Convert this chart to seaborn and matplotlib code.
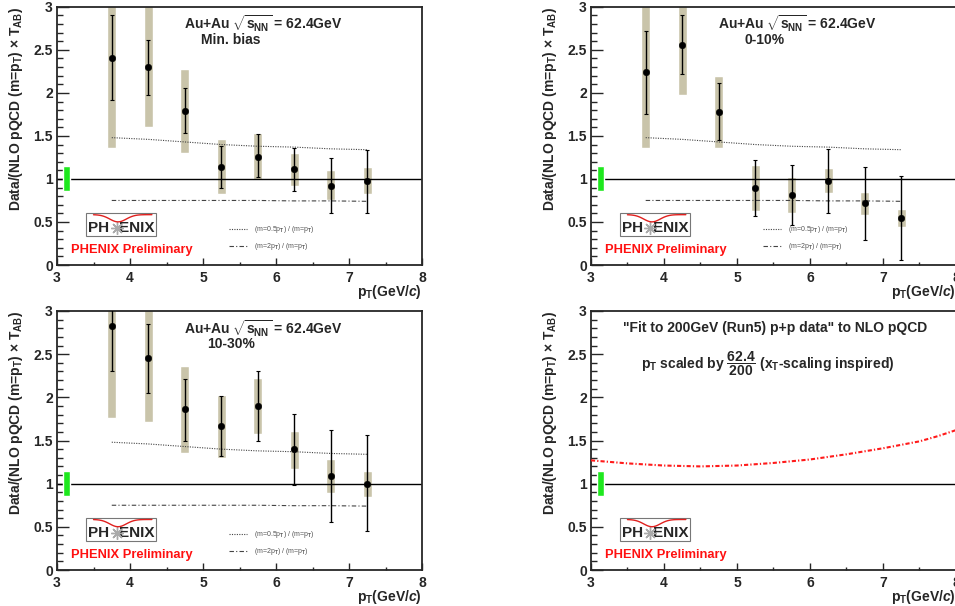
import numpy as np
import matplotlib
matplotlib.use('Agg')
import matplotlib.pyplot as plt
import seaborn as sns
from matplotlib.lines import Line2D
from matplotlib.patches import Rectangle

# pT bin centres (GeV/c)
pt = [3.75, 4.25, 4.75, 5.25, 5.75, 6.25, 6.75, 7.25]

# Min. bias
mb_val = [2.41, 2.30, 1.79, 1.14, 1.26, 1.11, 0.92, 0.98]
mb_stat_hi = [2.90, 2.62, 2.06, 1.38, 1.52, 1.36, 1.24, 1.34]
mb_stat_lo = [1.92, 1.98, 1.53, 0.90, 1.02, 0.86, 0.61, 0.61]
mb_sys_hi = [3.40, 3.40, 2.28, 1.47, 1.53, 1.30, 1.10, 1.14]
mb_sys_lo = [1.36, 1.60, 1.30, 0.82, 0.99, 0.92, 0.75, 0.83]

# 0-10%
c0_val = [2.24, 2.56, 1.78, 0.90, 0.81, 0.98, 0.715, 0.55]
c0_stat_hi = [2.72, 2.90, 2.11, 1.22, 1.16, 1.35, 1.14, 1.04]
c0_stat_lo = [1.76, 2.22, 1.45, 0.57, 0.47, 0.61, 0.29, 0.06]
c0_sys_hi = [3.40, 3.40, 2.20, 1.16, 1.02, 1.125, 0.85, 0.65]
c0_sys_lo = [1.36, 1.97, 1.36, 0.63, 0.61, 0.835, 0.58, 0.44]

# 10-30%
c1_val = [2.83, 2.45, 1.86, 1.67, 1.90, 1.40, 1.09, 1.00]
c1_stat_hi = [3.35, 2.85, 2.21, 2.02, 2.31, 1.81, 1.62, 1.56]
c1_stat_lo = [2.31, 2.05, 1.50, 1.32, 1.50, 0.98, 0.56, 0.45]
c1_sys_hi = [3.40, 3.40, 2.36, 2.03, 2.22, 1.61, 1.29, 1.15]
c1_sys_lo = [1.76, 1.71, 1.35, 1.30, 1.58, 1.17, 0.89, 0.85]

# scale variations of NLO pQCD
scale_half = [1.48, 1.46, 1.43, 1.40, 1.38, 1.37, 1.35, 1.34]
scale_two = [0.75, 0.75, 0.75, 0.75, 0.75, 0.745, 0.745, 0.74]

# p+p fit / NLO (scaled)
fit_pt = [3.0, 3.5, 4.0, 4.5, 5.0, 5.5, 6.0, 6.5, 7.0, 7.5, 7.75, 8.0]
fit_ratio = [1.27, 1.235, 1.21, 1.20, 1.21, 1.24, 1.28, 1.34, 1.41, 1.49, 1.55, 1.62]

# global normalisation uncertainty (T_AB)
norm_x = 3.13
norm_lo = 0.855
norm_hi = 1.145

sns.set_style('ticks')
plt.rcParams['font.family'] = ['Liberation Sans', 'DejaVu Sans']
plt.rcParams['font.weight'] = 'bold'
plt.rcParams['mathtext.fontset'] = 'custom'
plt.rcParams['mathtext.rm'] = 'Liberation Sans:bold'
plt.rcParams['mathtext.bf'] = 'Liberation Sans:bold'
plt.rcParams['mathtext.it'] = 'Liberation Sans:italic:bold'
plt.rcParams['mathtext.sf'] = 'Liberation Sans'

SYS_COLOR = '#c9c4aa'
DOT_STYLE = (0, (1, 1.2))
DASHDOT_STYLE = (0, (4, 2, 1, 2))

fig = plt.figure(figsize=(9.55, 6.06), dpi=100)
W, H = 0.3822, 0.426
pos = {'tl': [0.0597, 0.5627, W, H], 'tr': [0.6188, 0.5627, W, H],
       'bl': [0.0597, 0.0594, W, 0.4274], 'br': [0.6188, 0.0594, W, 0.4274]}


def style_axes(ax):
    ax.set_xlim(3, 8)
    ax.set_ylim(0, 3)
    ax.set_xticks([3, 4, 5, 6, 7, 8])
    ax.set_xticks(np.arange(3, 8.01, 0.5), minor=True)
    ax.set_yticks([0, 0.5, 1, 1.5, 2, 2.5, 3])
    ax.set_yticklabels(['0', '0.5', '1', '1.5', '2', '2.5', '3'])
    ax.set_yticks(np.arange(0, 3.01, 0.1), minor=True)
    ax.tick_params(which='both', direction='in', labelsize=10, width=1)
    ax.tick_params(axis='y', which='major', length=8.5, pad=3)
    ax.tick_params(axis='y', which='minor', length=4.3)
    ax.tick_params(axis='x', which='major', length=5, pad=4)
    ax.tick_params(axis='x', which='minor', length=2.5)
    for lab in ax.get_xticklabels() + ax.get_yticklabels():
        lab.set_fontweight('bold')
    for sp in ax.spines.values():
        sp.set_visible(True)
        sp.set_linewidth(1.3)
    ax.axhline(1, color='black', lw=1.0, zorder=2)
    ax.bar([norm_x], [norm_hi - norm_lo], bottom=[norm_lo], width=0.1,
           color='#1ee81e', zorder=3)
    ax.set_ylabel(r'Data/(NLO pQCD (m=p$_{\rm T}$) × T$_{\rm AB}$)',
                  fontsize=10, fontweight='bold', loc='top')
    ax.yaxis.set_label_coords(-0.088, 1.0)
    ax.set_xlabel(r'p$_{\rm T}$(GeV/$\it{c}$)', fontsize=10,
                  fontweight='bold', loc='right')
    ax.xaxis.set_label_coords(1.0, -0.068)
    # PHENIX logo and tag
    ax.add_patch(Rectangle((0.079, 0.112), 0.192, 0.09, transform=ax.transAxes,
                           facecolor='white', edgecolor='#777777', lw=0.8, zorder=4))
    ax.text(0.085, 0.142, 'PH', transform=ax.transAxes, fontsize=11,
            fontweight='bold', va='center', ha='left', zorder=5)
    ax.text(0.266, 0.142, 'ENIX', transform=ax.transAxes, fontsize=11,
            fontweight='bold', va='center', ha='right', zorder=5)
    ax.plot([0.163], [0.142], marker=(8, 2, 0), ms=9, color='#aaaaaa',
            transform=ax.transAxes, zorder=5)
    t = np.linspace(0, 1, 30)
    ax.plot(0.10 + 0.16 * t, 0.195 - 0.028 * np.exp(-((t - 0.42) / 0.2) ** 2),
            color='#e0201e', lw=1.0, transform=ax.transAxes, zorder=5)
    ax.text(0.0375, 0.058, 'PHENIX Preliminary', transform=ax.transAxes,
            color='#ff1010', fontsize=9.3, fontweight='bold', va='center')


def draw_data(ax, val, stat_hi, stat_lo, sys_hi, sys_lo, centrality):
    val = np.array(val)
    ax.bar(pt, np.array(sys_hi) - np.array(sys_lo), bottom=sys_lo, width=0.12,
           color=SYS_COLOR, zorder=1)
    sns.lineplot(x=pt, y=scale_half, ax=ax, color='#444444', lw=0.8,
                 linestyle=DOT_STYLE, zorder=2)
    sns.lineplot(x=pt, y=scale_two, ax=ax, color='#444444', lw=0.8,
                 linestyle=DASHDOT_STYLE, zorder=2)
    ax.errorbar(pt, val, yerr=[val - np.array(stat_lo), np.array(stat_hi) - val],
                fmt='none', ecolor='black', elinewidth=1.0, capsize=1.6,
                capthick=0.8, zorder=4)
    sns.scatterplot(x=pt, y=val, ax=ax, color='black', s=22, edgecolor='black',
                    zorder=5)
    ax.text(5.82, 2.80, r'Au+Au $\sqrt{{\rm s}_{\rm NN}}$ = 62.4GeV', fontsize=10,
            fontweight='bold', ha='center', va='center')
    ax.text(5.38, 2.62, centrality, fontsize=10, fontweight='bold',
            ha='center', va='center')
    handles = [Line2D([], [], color='#444444', lw=0.8, linestyle=DOT_STYLE),
               Line2D([], [], color='#444444', lw=0.8, linestyle=DASHDOT_STYLE)]
    labels = [r'(m=0.5p$_{\rm T}$) / (m=p$_{\rm T}$)',
              r'(m=2p$_{\rm T}$) / (m=p$_{\rm T}$)']
    leg = ax.legend(handles, labels, loc='lower left', bbox_to_anchor=(0.455, 0.025),
                    frameon=False, handlelength=2.6, handletextpad=0.9,
                    labelspacing=0.9, prop={'size': 5, 'weight': 'normal'})
    for txt in leg.get_texts():
        txt.set_color('#555555')


ax_tl = fig.add_axes(pos['tl'])
style_axes(ax_tl)
draw_data(ax_tl, mb_val, mb_stat_hi, mb_stat_lo, mb_sys_hi, mb_sys_lo, 'Min. bias')

ax_tr = fig.add_axes(pos['tr'])
style_axes(ax_tr)
draw_data(ax_tr, c0_val, c0_stat_hi, c0_stat_lo, c0_sys_hi, c0_sys_lo, '0-10%')

ax_bl = fig.add_axes(pos['bl'])
style_axes(ax_bl)
draw_data(ax_bl, c1_val, c1_stat_hi, c1_stat_lo, c1_sys_hi, c1_sys_lo, '10-30%')

ax_br = fig.add_axes(pos['br'])
style_axes(ax_br)
sns.lineplot(x=fit_pt, y=fit_ratio, ax=ax_br, color='#ff1a1a', lw=1.5,
             linestyle=(0, (2, 1, 0.6, 1)), zorder=3)
ax_br.text(5.52, 2.80, '"Fit to 200GeV (Run5) p+p data" to NLO pQCD', fontsize=10,
           fontweight='bold', ha='center', va='center')
ax_br.text(5.42, 2.39, r'p$_{\rm T}$ scaled by $\dfrac{\rm 62.4}{\rm 200}$ (x$_{\rm T}$-scaling inspired)',
           fontsize=10, fontweight='bold', ha='center', va='center')

fig.savefig('out.png', dpi=100)
